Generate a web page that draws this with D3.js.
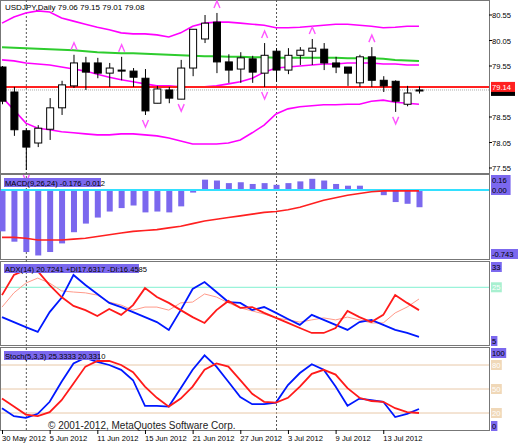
<!DOCTYPE html>
<html><head><meta charset="utf-8">
<script src="https://cdn.jsdelivr.net/npm/d3@7"></script>
<style>body{margin:0;background:#fff}svg{display:block;font-family:"Liberation Sans",Arial,sans-serif}</style>
</head><body><svg id="c" width="518" height="444"></svg>
<script>
// bars (30 May .. 16 Jul 2012)
var opens  = [79.53,79.04,78.28,78.04,78.31,78.73,79.16,79.61,79.61,79.41,79.47,79.45,79.31,78.82,79.08,78.90,79.51,80.08,80.41,79.63,79.49,79.69,79.41,79.84,79.47,79.76,79.84,79.88,79.61,79.53,79.22,79.73,79.27,79.25,78.80,79.06]
var highs  = [79.55,79.14,78.33,78.39,78.92,79.26,79.77,79.73,79.71,79.61,79.73,79.51,79.49,79.16,79.14,79.67,80.27,80.55,80.59,79.78,79.82,79.75,80.00,79.90,79.90,79.92,80.08,80.00,79.73,79.53,79.77,79.92,79.35,79.27,79.16,79.15]
var lows   = [78.80,78.18,77.51,77.96,78.10,78.59,79.12,79.08,79.31,79.14,79.27,79.14,78.59,78.82,78.82,78.90,79.35,80.00,79.41,79.22,79.22,79.22,79.14,79.24,79.39,79.57,79.57,79.47,79.41,79.16,79.14,79.14,79.04,78.65,78.76,79.01]
var closes = [78.86,78.30,77.96,78.33,78.73,79.18,79.61,79.43,79.41,79.51,79.45,79.33,78.67,79.10,78.92,79.51,80.27,80.39,79.63,79.47,79.71,79.43,79.76,79.47,79.76,79.86,79.90,79.61,79.53,79.41,79.73,79.27,79.16,78.86,79.02,79.08]
var bbUpper = [80.39,80.51,80.59,80.63,80.61,80.49,80.43,80.37,80.31,80.26,80.20,80.18,80.18,80.16,80.12,80.20,80.33,80.39,80.41,80.41,80.39,80.37,80.35,80.30,80.30,80.31,80.33,80.35,80.37,80.37,80.35,80.33,80.30,80.31,80.33,80.33]
var bbMid   = [79.67,79.65,79.61,79.59,79.57,79.53,79.49,79.45,79.39,79.33,79.28,79.24,79.20,79.16,79.16,79.14,79.14,79.14,79.16,79.20,79.24,79.31,79.43,79.51,79.53,79.55,79.57,79.59,79.59,79.61,79.61,79.61,79.59,79.59,79.57,79.57]
var bbLower = [78.94,78.69,78.43,78.33,78.30,78.26,78.24,78.22,78.20,78.20,78.22,78.22,78.20,78.18,78.14,78.08,78.02,78.02,78.02,78.04,78.10,78.24,78.39,78.61,78.71,78.75,78.77,78.79,78.79,78.80,78.80,78.86,78.88,78.84,78.82,78.80]
var maGreen = [79.92,79.91,79.90,79.89,79.88,79.87,79.86,79.84,79.82,79.81,79.80,79.80,79.79,79.78,79.77,79.76,79.75,79.74,79.74,79.73,79.73,79.72,79.72,79.71,79.71,79.71,79.71,79.71,79.71,79.70,79.70,79.70,79.69,79.67,79.66,79.65]
var fracUp = [6,10,18,22,26,31]
var fracDown = [2,12,15,22,33]
var macdHist = [-0.48,-0.60,-0.72,-0.76,-0.72,-0.62,-0.49,-0.39,-0.32,-0.25,-0.21,-0.18,-0.26,-0.25,-0.26,-0.19,-0.03,0.12,0.11,0.08,0.09,0.07,0.08,0.06,0.08,0.10,0.13,0.11,0.07,0.05,0.05,0.01,-0.06,-0.14,-0.16,-0.20]
var macdSignal = [-0.55,-0.55,-0.56,-0.58,-0.58,-0.58,-0.57,-0.56,-0.54,-0.52,-0.50,-0.48,-0.47,-0.46,-0.44,-0.42,-0.39,-0.36,-0.34,-0.32,-0.30,-0.28,-0.26,-0.25,-0.23,-0.20,-0.16,-0.12,-0.09,-0.06,-0.04,-0.02,-0.01,-0.01,-0.01,-0.01]
var adxRed  = [22.2,29.4,31.2,30.8,25.8,21.5,18.3,16.8,14.7,17.2,15.1,18.6,24.7,21.5,19.4,16.8,14.3,12.2,16.8,20.1,17.6,17.9,15.8,14.0,12.2,10.4,8.6,8.6,10.4,16.5,14.3,12.5,15.1,22.2,19.4,16.8]
var adxBlue = [14.3,12.5,10.7,9.0,16.1,21.2,29.4,25.8,22.6,19.4,17.9,16.1,14.3,12.5,9.7,16.8,24.4,26.9,23.3,19.7,19.4,16.8,17.9,15.8,13.6,11.5,15.1,13.3,11.5,9.7,12.5,13.3,11.5,9.7,8.6,7.2]
var adxMain = [17.9,23.0,26.5,28.3,26.5,23.7,23.3,23.0,22.2,19.7,18.6,16.8,17.9,17.9,16.8,19.4,19.7,22.6,21.5,19.4,17.6,16.5,15.4,14.0,13.3,12.5,13.3,14.0,13.3,14.3,13.3,12.2,12.2,15.8,17.9,20.8]
var stochK = [26,16,14,19,34,59,82,89,84,80,74,61,29,29,28,51,74,92,78,59,40,31,31,33,55,70,81,74,53,29,38,36,34,15,19,25]
var stochD = [38,28,18,16,21,36,57,78,85,85,80,71,53,39,28,38,53,74,82,78,61,44,34,33,39,53,69,74,68,51,39,35,34,26,21,20]
var dateLabels = [[0,"30 May 2012"],[4,"5 Jun 2012"],[8,"11 Jun 2012"],[12,"15 Jun 2012"],[16,"21 Jun 2012"],[20,"27 Jun 2012"],[24,"3 Jul 2012"],[28,"9 Jul 2012"],[32,"13 Jul 2012"]]
var priceTicks = [80.55,80.05,79.55,78.55,78.05,77.55]

var svg = d3.select("#c")
var R = 489
var x = d3.scaleLinear().domain([0,35]).range([2,419])
var idx = d3.range(36)
var yP = d3.scaleLinear().domain([77.55,80.55]).range([168,15])
var yM = d3.scaleLinear().domain([-0.743,0]).range([254,190])
var yA = d3.scaleLinear().domain([5,33]).range([343,265])
var yS = d3.scaleLinear().domain([0,100]).range([429,349])
var FS = 7.6

var panes = [[0,173],[174,259],[261,345],[347,430]]
panes.forEach(function(p){
  svg.append("rect").attr("x",0.5).attr("y",p[0]+0.5).attr("width",R).attr("height",p[1]-p[0]).attr("fill","none").attr("stroke","#777")
})
// dashed period separators
;[2,23].forEach(function(i){
  svg.append("line").attr("x1",x(i)+0.5).attr("x2",x(i)+0.5).attr("y1",0).attr("y2",430).attr("stroke","#555").attr("stroke-dasharray","2,2")
})

function lineOn(ys, data, col, w){
  svg.append("path").datum(data).attr("fill","none").attr("stroke",col).attr("stroke-width",w)
    .attr("d", d3.line().x(function(d,i){return x(i)}).y(function(d){return ys(d)}))
}
function boxLabel(txt, yy, bg, fg){
  var g = svg.append("g")
  g.append("rect").attr("x",491).attr("y",yy-5).attr("width",txt.length*4.4+2).attr("height",10).attr("fill",bg)
  g.append("text").attr("x",492).attr("y",yy+3).attr("font-size",FS).attr("fill",fg||"#000").text(txt)
}

// main pane
lineOn(yP, maGreen, "#2ecc2e", 2)
lineOn(yP, bbUpper, "#ff00ff", 1.6)
lineOn(yP, bbMid, "#ff00ff", 1.6)
lineOn(yP, bbLower, "#ff00ff", 1.6)
svg.append("line").attr("x1",0).attr("x2",R).attr("y1",yP(79.08)).attr("y2",yP(79.08)).attr("stroke","#aaa").attr("stroke-dasharray","1,1")
svg.append("line").attr("x1",0).attr("x2",R).attr("y1",yP(79.14)).attr("y2",yP(79.14)).attr("stroke","#ff2020").attr("stroke-width",2)
idx.forEach(function(i){
  var cx = x(i), up = closes[i]>=opens[i]
  svg.append("line").attr("x1",cx+0.5).attr("x2",cx+0.5).attr("y1",yP(highs[i])).attr("y2",yP(lows[i])).attr("stroke","#000")
  var t = yP(Math.max(opens[i],closes[i])), b = yP(Math.min(opens[i],closes[i]))
  svg.append("rect").attr("x",cx-3).attr("y",t).attr("width",7).attr("height",Math.max(1,b-t)).attr("fill",up?"#fff":"#000").attr("stroke","#000")
})
fracUp.forEach(function(i){
  var cx=x(i)+0.5, yy=yP(highs[i])-8
  svg.append("path").attr("d","M"+(cx-3)+","+(yy+3)+"L"+cx+","+(yy-4)+"L"+(cx+3)+","+(yy+3)).attr("fill","none").attr("stroke","#ff55ff").attr("stroke-width",1.4)
})
fracDown.forEach(function(i){
  var cx=x(i)+0.5, yy=yP(lows[i])+8
  svg.append("path").attr("d","M"+(cx-3)+","+(yy-3)+"L"+cx+","+(yy+4)+"L"+(cx+3)+","+(yy-3)).attr("fill","none").attr("stroke","#ff55ff").attr("stroke-width",1.4)
})
svg.append("text").attr("x",5).attr("y",10).attr("font-size",FS+0.4).text("USDJPY,Daily  79.06 79.15 79.01 79.08")
priceTicks.forEach(function(v){
  svg.append("line").attr("x1",R).attr("x2",R+3).attr("y1",yP(v)).attr("y2",yP(v)).attr("stroke","#000")
  svg.append("text").attr("x",492).attr("y",yP(v)+3).attr("font-size",FS).text(v.toFixed(2))
})
svg.append("rect").attr("x",491).attr("y",yP(79.14)+4).attr("width",24).attr("height",5).attr("fill","#000")
boxLabel("79.14", yP(79.14), "#ff2020", "#fff")

// MACD
var violet = "#7b68ee"
idx.forEach(function(i){
  var v = macdHist[i]
  svg.append("rect").attr("x",x(i)-2.5).attr("width",6).attr("y",yM(Math.max(0,v))).attr("height",Math.abs(yM(v)-yM(0))).attr("fill",violet)
})
svg.append("line").attr("x1",1).attr("x2",R).attr("y1",yM(0)).attr("y2",yM(0)).attr("stroke","#33e0ff").attr("stroke-width",2)
lineOn(yM, macdSignal, "#ff2020", 1.6)
svg.append("rect").attr("x",4).attr("y",178).attr("width",97).attr("height",9).attr("fill",violet)
svg.append("text").attr("x",5).attr("y",185.5).attr("font-size",FS).text("MACD(9,26,24) -0.176 -0.012")
boxLabel("0.16",180,violet); boxLabel("0.00",190,violet); boxLabel("-0.743",254,violet)

// ADX
svg.append("line").attr("x1",1).attr("x2",R).attr("y1",yA(25)).attr("y2",yA(25)).attr("stroke","#80f0d0")
lineOn(yA, adxMain, "#ff9a8a", 1)
lineOn(yA, adxBlue, "#0018ff", 1.8)
lineOn(yA, adxRed, "#ff1a1a", 1.8)
svg.append("rect").attr("x",4).attr("y",264).attr("width",135).attr("height",9).attr("fill",violet)
svg.append("text").attr("x",5).attr("y",271.5).attr("font-size",FS).text("ADX(14) 20.7241 +DI17.6317 -DI:16.4585")
boxLabel("33",267,violet); boxLabel("25",yA(25),"#a8f0d0","#fff"); boxLabel("5",341,violet)

// Stochastic
;[80,50,20].forEach(function(v){
  svg.append("line").attr("x1",1).attr("x2",R).attr("y1",yS(v)).attr("y2",yS(v)).attr("stroke","#e8c8a8")
})
lineOn(yS, stochK, "#0018ff", 1.8)
lineOn(yS, stochD, "#ff1a1a", 1.8)
svg.append("rect").attr("x",4).attr("y",351).attr("width",96).attr("height",9).attr("fill",violet)
svg.append("text").attr("x",5).attr("y",358.5).attr("font-size",FS).text("Stoch(5,3,3) 25.3333 20.3310")
boxLabel("100",353,violet); boxLabel("80",yS(80),"#f0d8b8","#fff"); boxLabel("50",yS(50),"#f0d8b8","#fff"); boxLabel("20",yS(20),"#f0d8b8","#fff"); boxLabel("0",426,violet)
svg.append("text").attr("x",48).attr("y",429).attr("font-size",10).attr("fill","#222").text("© 2001-2012, MetaQuotes Software Corp.")

// date axis
dateLabels.forEach(function(d){
  var xx = x(d[0])
  svg.append("line").attr("x1",xx+0.5).attr("x2",xx+0.5).attr("y1",430).attr("y2",434).attr("stroke","#000")
  svg.append("text").attr("x",xx).attr("y",441).attr("font-size",FS).text(d[1])
})
</script></body></html>
